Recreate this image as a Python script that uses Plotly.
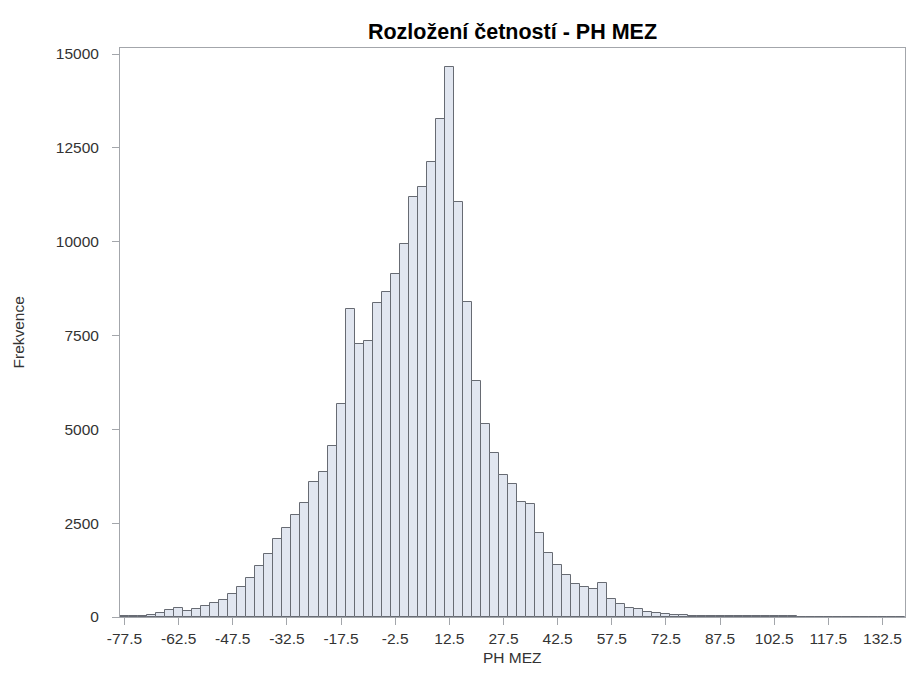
import plotly.graph_objects as go

bin_centers = [-77.5 + 2.5 * i for i in range(87)]
counts = [
    15, 20, 35, 60, 100, 187, 249, 169, 213, 293,
    364, 453, 613, 808, 1030, 1359, 1679, 2069, 2380, 2718,
    3040, 3606, 3872, 4556, 5667, 8207, 7266, 7354, 8358, 8670,
    9131, 9930, 11183, 11466, 12124, 13278, 14647, 11058, 8401, 6290,
    5142, 4361, 3784, 3535, 3055, 3002, 2229, 1696, 1385, 1110,
    879, 808, 737, 915, 488, 346, 249, 204, 142, 98,
    80, 60, 45, 35, 28, 22, 18, 15, 14, 15,
    20, 30, 35, 28, 18, 12, 10, 8, 7, 6,
    5, 5, 4, 4, 3, 3, 2,
]
x_ticks = [-77.5 + 15 * i for i in range(15)]
x_tick_labels = [f"{v:g}" for v in x_ticks]
y_ticks = [0, 2500, 5000, 7500, 10000, 12500, 15000]

title_text = "Rozložení četností - PH MEZ"
x_title = "PH MEZ"
y_title = "Frekvence"

font_family = "Liberation Sans, Arial, sans-serif"
axis_color = "#a3a6ab"
text_color = "#333333"
fs = 15.5
W, H = 908, 684

fig = go.Figure(
    go.Bar(
        x=bin_centers,
        y=counts,
        width=2.5,
        marker=dict(color="#e1e6f0", line=dict(color="#676b73", width=1)),
    )
)

fig.update_layout(
    width=W,
    height=H,
    margin=dict(l=120, r=3, t=48, b=67),
    paper_bgcolor="white",
    plot_bgcolor="white",
    bargap=0,
    showlegend=False,
    font=dict(family=font_family, size=fs, color=text_color),
    title=dict(
        text="<b>" + title_text + "</b>",
        x=(120 + 905) / 2 / W,
        xanchor="center",
        y=1 - 31 / H,
        yanchor="middle",
        font=dict(family=font_family, size=21.5, color="#000000"),
    ),
    annotations=[
        dict(
            text=x_title,
            xref="paper", yref="paper",
            x=0.5, y=-(657 - 617) / (617 - 48),
            xanchor="center", yanchor="middle",
            showarrow=False,
            font=dict(size=fs, color=text_color),
        ),
        dict(
            text=y_title,
            xref="paper", yref="paper",
            x=-(120 - 18) / (905 - 120), y=0.5,
            xanchor="center", yanchor="middle",
            textangle=-90,
            showarrow=False,
            font=dict(size=fs, color=text_color),
        ),
    ],
)

fig.update_xaxes(
    range=[-78.75, 138.75],
    tickvals=x_ticks,
    ticktext=x_tick_labels,
    ticks="outside",
    ticklen=7,
    tickcolor=axis_color,
    showline=True,
    linecolor=axis_color,
    mirror=True,
    showgrid=False,
    zeroline=False,
    tickfont=dict(size=fs, color=text_color),
)

fig.update_yaxes(
    range=[0, 15160],
    tickvals=y_ticks,
    ticktext=[str(v) for v in y_ticks],
    ticks="outside",
    ticklen=7,
    tickcolor=axis_color,
    ticklabelstandoff=10,
    showline=True,
    linecolor=axis_color,
    mirror=True,
    showgrid=False,
    zeroline=False,
    tickfont=dict(size=fs, color=text_color),
)

fig.write_html("out.html")
